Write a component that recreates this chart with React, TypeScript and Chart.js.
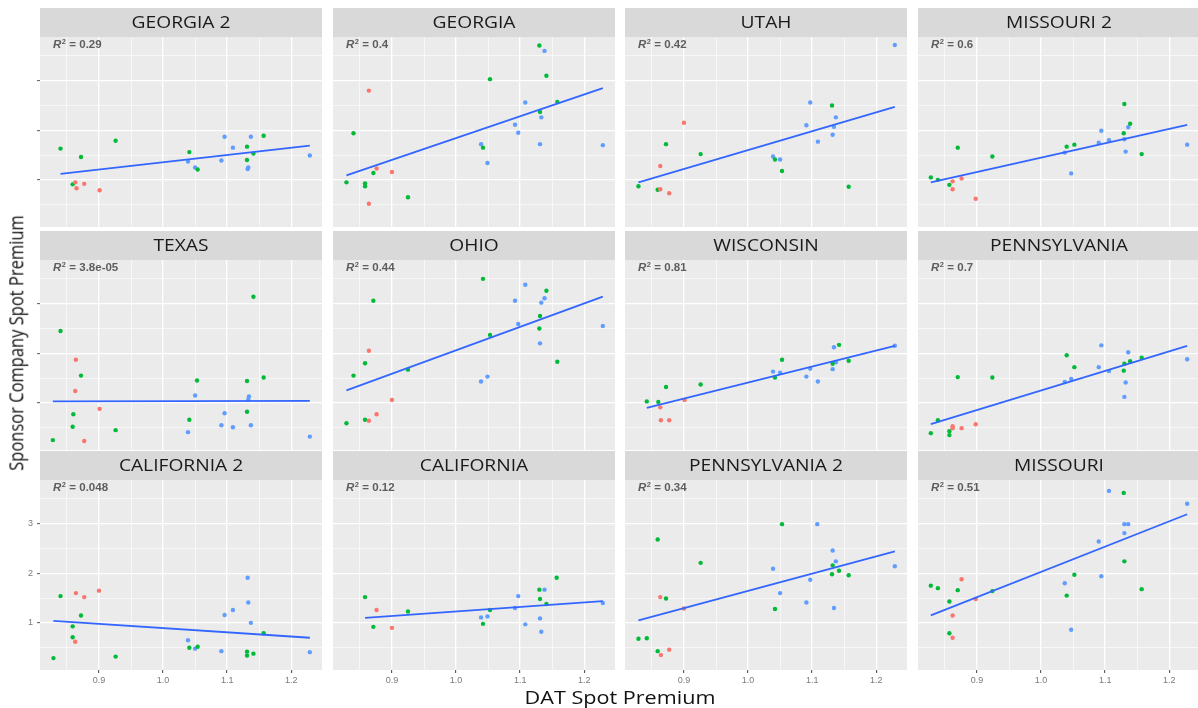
import React, { useEffect, useRef } from 'react';
import { Chart, registerables } from 'chart.js';

Chart.register(...registerables);

type Grp = 'r' | 'g' | 'b';
type Pt = [number, number, Grp];
type Fit = [[number, number], [number, number]];

// ---------- labels ----------
const PANEL_TITLES = [
  'GEORGIA 2', 'GEORGIA', 'UTAH', 'MISSOURI 2',
  'TEXAS', 'OHIO', 'WISCONSIN', 'PENNSYLVANIA',
  'CALIFORNIA 2', 'CALIFORNIA', 'PENNSYLVANIA 2', 'MISSOURI',
];
const R2_LABELS = ['0.29', '0.4', '0.42', '0.6', '3.8e-05', '0.44', '0.81', '0.7', '0.048', '0.12', '0.34', '0.51'];
const X_TITLE = 'DAT Spot Premium';
const Y_TITLE = 'Sponsor Company Spot Premium';

// ---------- axes ----------
const X_TICKS = [0.85, 0.9, 0.95, 1.0, 1.05, 1.1, 1.15, 1.2];
const X_MAJOR = [0.9, 1.0, 1.1, 1.2];
const Y_TICKS = [0.5, 1, 1.5, 2, 2.5, 3, 3.5];
const Y_MAJOR = [1, 2, 3];
const X_RANGE = [0.808, 1.248];
const Y_RANGE = [0.05, 3.88];

// ---------- data (x = DAT premium, y = sponsor premium, group) ----------
const georgia2: Pt[] = [
  [0.84, 1.63, 'g'], [0.926, 1.79, 'g'], [0.872, 1.46, 'g'], [0.859, 0.91, 'g'],
  [0.863, 0.95, 'r'], [0.877, 0.92, 'r'], [0.865, 0.83, 'r'], [0.901, 0.79, 'r'],
  [1.041, 1.56, 'g'], [1.039, 1.37, 'b'], [1.05, 1.25, 'b'], [1.054, 1.21, 'g'],
  [1.096, 1.87, 'b'], [1.109, 1.65, 'b'], [1.091, 1.39, 'b'], [1.137, 1.87, 'b'],
  [1.131, 1.67, 'g'], [1.157, 1.89, 'g'], [1.141, 1.53, 'g'], [1.131, 1.40, 'g'],
  [1.133, 1.25, 'b'], [1.132, 1.22, 'b'], [1.229, 1.49, 'b'],
];
const georgia: Pt[] = [
  [1.130, 3.71, 'g'], [1.138, 3.60, 'b'], [1.053, 3.03, 'g'], [1.141, 3.10, 'g'],
  [0.864, 2.80, 'r'], [1.108, 2.56, 'b'], [1.158, 2.57, 'g'], [1.131, 2.37, 'g'],
  [1.133, 2.26, 'b'], [1.092, 2.11, 'b'], [1.097, 1.95, 'b'], [0.84, 1.94, 'g'],
  [1.039, 1.72, 'b'], [1.042, 1.65, 'g'], [1.131, 1.72, 'b'], [1.229, 1.70, 'b'],
  [1.049, 1.34, 'b'], [0.876, 1.23, 'r'], [0.9, 1.16, 'r'], [0.871, 1.14, 'g'],
  [0.829, 0.95, 'g'], [0.858, 0.93, 'g'], [0.858, 0.87, 'g'], [0.925, 0.65, 'g'],
  [0.864, 0.52, 'r'],
];
const utah: Pt[] = [
  [1.229, 3.72, 'b'], [1.097, 2.56, 'b'], [1.131, 2.50, 'g'], [1.137, 2.26, 'b'],
  [1.091, 2.10, 'b'], [1.134, 2.07, 'b'], [1.132, 1.91, 'b'], [1.109, 1.77, 'b'],
  [0.9, 2.15, 'r'], [0.872, 1.72, 'g'], [0.926, 1.52, 'g'], [1.039, 1.47, 'b'],
  [1.042, 1.41, 'g'], [1.05, 1.41, 'b'], [1.053, 1.18, 'g'], [0.863, 1.28, 'r'],
  [0.829, 0.87, 'g'], [0.859, 0.80, 'g'], [0.863, 0.81, 'r'], [0.877, 0.73, 'r'],
  [1.157, 0.86, 'g'],
];
const missouri2: Pt[] = [
  [1.130, 2.53, 'g'], [1.139, 2.13, 'g'], [1.136, 2.06, 'b'], [1.129, 1.94, 'g'],
  [1.094, 1.99, 'b'], [1.09, 1.75, 'b'], [1.106, 1.80, 'b'], [1.13, 1.82, 'b'],
  [1.132, 1.57, 'b'], [1.157, 1.52, 'g'], [1.228, 1.71, 'b'], [1.04, 1.67, 'g'],
  [1.052, 1.71, 'g'], [1.037, 1.55, 'b'], [1.047, 1.13, 'b'], [0.87, 1.65, 'g'],
  [0.924, 1.47, 'g'], [0.828, 1.05, 'g'], [0.839, 1.0, 'g'], [0.857, 0.9, 'g'],
  [0.862, 0.97, 'r'], [0.876, 1.03, 'r'], [0.862, 0.81, 'r'], [0.898, 0.62, 'r'],
];
const texas: Pt[] = [
  [1.141, 3.14, 'g'], [0.84, 2.45, 'g'], [0.864, 1.87, 'r'], [0.872, 1.55, 'g'],
  [0.863, 1.24, 'r'], [0.901, 0.88, 'r'], [0.86, 0.77, 'g'], [0.859, 0.52, 'g'],
  [0.828, 0.25, 'g'], [0.877, 0.23, 'r'], [0.926, 0.45, 'g'], [1.053, 1.45, 'g'],
  [1.05, 1.15, 'b'], [1.041, 0.66, 'g'], [1.039, 0.41, 'b'], [1.131, 1.44, 'g'],
  [1.157, 1.51, 'g'], [1.134, 1.13, 'b'], [1.133, 1.07, 'b'], [1.131, 0.82, 'g'],
  [1.096, 0.79, 'b'], [1.091, 0.55, 'b'], [1.109, 0.51, 'b'], [1.137, 0.55, 'b'],
  [1.229, 0.32, 'b'],
];
const ohio: Pt[] = [
  [1.042, 3.5, 'g'], [1.108, 3.38, 'b'], [1.141, 3.26, 'g'], [1.138, 3.11, 'b'],
  [1.092, 3.06, 'b'], [1.133, 3.02, 'b'], [0.871, 3.06, 'g'], [1.131, 2.75, 'g'],
  [1.097, 2.59, 'b'], [1.130, 2.5, 'g'], [1.053, 2.37, 'g'], [1.229, 2.55, 'b'],
  [1.131, 2.2, 'b'], [1.158, 1.83, 'g'], [0.864, 2.05, 'r'], [0.858, 1.8, 'g'],
  [0.84, 1.55, 'g'], [0.925, 1.67, 'g'], [1.049, 1.53, 'b'], [1.039, 1.43, 'b'],
  [0.9, 1.06, 'r'], [0.876, 0.77, 'r'], [0.858, 0.66, 'g'], [0.864, 0.64, 'r'],
  [0.829, 0.59, 'g'],
];
const wisconsin: Pt[] = [
  [1.142, 2.17, 'g'], [1.134, 2.12, 'b'], [1.229, 2.15, 'b'], [1.053, 1.87, 'g'],
  [1.132, 1.79, 'g'], [1.137, 1.82, 'b'], [1.157, 1.85, 'g'], [1.132, 1.68, 'b'],
  [1.097, 1.69, 'b'], [1.039, 1.63, 'b'], [1.05, 1.61, 'b'], [1.042, 1.51, 'g'],
  [1.091, 1.53, 'b'], [1.109, 1.43, 'b'], [0.872, 1.32, 'g'], [0.926, 1.37, 'g'],
  [0.842, 1.03, 'g'], [0.86, 1.02, 'g'], [0.863, 0.91, 'r'], [0.901, 1.06, 'r'],
  [0.864, 0.65, 'r'], [0.877, 0.65, 'r'],
];
const pennsylvania: Pt[] = [
  [1.094, 2.16, 'b'], [1.136, 2.02, 'b'], [1.04, 1.96, 'g'], [1.157, 1.91, 'g'],
  [1.139, 1.84, 'g'], [1.130, 1.79, 'g'], [1.228, 1.88, 'b'], [1.052, 1.72, 'g'],
  [1.09, 1.72, 'b'], [1.106, 1.64, 'b'], [1.129, 1.65, 'g'], [1.132, 1.41, 'b'],
  [1.13, 1.12, 'b'], [1.047, 1.48, 'b'], [1.037, 1.42, 'b'], [0.87, 1.52, 'g'],
  [0.924, 1.51, 'g'], [0.839, 0.65, 'g'], [0.828, 0.39, 'g'], [0.857, 0.43, 'g'],
  [0.857, 0.35, 'g'], [0.862, 0.53, 'r'], [0.862, 0.49, 'r'], [0.876, 0.49, 'r'],
  [0.898, 0.57, 'r'],
];
const california2: Pt[] = [
  [1.132, 1.91, 'b'], [1.133, 1.41, 'b'], [1.109, 1.26, 'b'], [1.096, 1.16, 'b'],
  [1.137, 1.0, 'b'], [1.157, 0.79, 'g'], [1.039, 0.65, 'b'], [1.041, 0.5, 'g'],
  [1.05, 0.48, 'b'], [1.054, 0.52, 'g'], [1.091, 0.43, 'b'], [1.131, 0.42, 'g'],
  [1.131, 0.34, 'g'], [1.141, 0.38, 'g'], [1.229, 0.41, 'b'], [0.9, 1.65, 'r'],
  [0.864, 1.6, 'r'], [0.877, 1.52, 'r'], [0.84, 1.54, 'g'], [0.872, 1.15, 'g'],
  [0.859, 0.93, 'g'], [0.859, 0.71, 'g'], [0.863, 0.62, 'r'], [0.829, 0.29, 'g'],
  [0.926, 0.32, 'g'],
];
const california: Pt[] = [
  [1.157, 1.91, 'g'], [1.130, 1.67, 'g'], [1.138, 1.67, 'b'], [1.097, 1.54, 'b'],
  [1.131, 1.48, 'g'], [1.141, 1.38, 'g'], [1.229, 1.40, 'b'], [1.092, 1.30, 'b'],
  [1.053, 1.26, 'g'], [1.049, 1.13, 'b'], [1.039, 1.11, 'b'], [1.042, 0.98, 'g'],
  [1.108, 0.97, 'b'], [1.131, 1.09, 'b'], [1.133, 0.82, 'b'], [0.858, 1.52, 'g'],
  [0.876, 1.26, 'r'], [0.925, 1.23, 'g'], [0.871, 0.92, 'g'], [0.9, 0.90, 'r'],
];
const pennsylvania2: Pt[] = [
  [1.053, 2.99, 'g'], [1.108, 2.99, 'b'], [0.859, 2.68, 'g'], [1.132, 2.46, 'b'],
  [0.926, 2.21, 'g'], [1.137, 2.24, 'b'], [1.132, 2.16, 'g'], [1.039, 2.09, 'b'],
  [1.229, 2.14, 'b'], [1.142, 2.05, 'g'], [1.131, 1.98, 'g'], [1.157, 1.96, 'g'],
  [1.097, 1.87, 'b'], [1.05, 1.6, 'b'], [0.863, 1.52, 'r'], [0.872, 1.49, 'g'],
  [1.091, 1.41, 'b'], [0.9, 1.29, 'r'], [1.042, 1.28, 'g'], [1.134, 1.3, 'b'],
  [0.829, 0.68, 'g'], [0.842, 0.69, 'g'], [0.859, 0.43, 'g'], [0.877, 0.46, 'r'],
  [0.864, 0.35, 'r'],
];
const missouri: Pt[] = [
  [1.106, 3.66, 'b'], [1.129, 3.62, 'g'], [1.228, 3.40, 'b'], [1.130, 2.99, 'b'],
  [1.136, 2.99, 'b'], [1.130, 2.81, 'b'], [1.09, 2.64, 'b'], [1.130, 2.24, 'g'],
  [1.052, 1.97, 'g'], [1.094, 1.94, 'b'], [1.157, 1.68, 'g'], [1.037, 1.80, 'b'],
  [1.04, 1.55, 'g'], [1.047, 0.86, 'b'], [0.876, 1.88, 'r'], [0.828, 1.75, 'g'],
  [0.839, 1.70, 'g'], [0.87, 1.66, 'g'], [0.924, 1.64, 'g'], [0.898, 1.48, 'r'],
  [0.857, 1.43, 'g'], [0.862, 1.15, 'r'], [0.857, 0.79, 'g'], [0.862, 0.70, 'r'],
];

const PANEL_DATA: Pt[][] = [
  georgia2, georgia, utah, missouri2,
  texas, ohio, wisconsin, pennsylvania,
  california2, california, pennsylvania2, missouri,
];

// fitted regression line end points
const FIT_LINES: Fit[] = [
  [[0.84, 1.12], [1.229, 1.69]],
  [[0.829, 1.09], [1.229, 2.85]],
  [[0.829, 0.95], [1.229, 2.47]],
  [[0.828, 0.95], [1.228, 2.11]],
  [[0.828, 1.03], [1.229, 1.04]],
  [[0.829, 1.25], [1.229, 3.14]],
  [[0.842, 0.90], [1.229, 2.15]],
  [[0.828, 0.57], [1.228, 2.15]],
  [[0.829, 1.04], [1.229, 0.70]],
  [[0.858, 1.10], [1.229, 1.44]],
  [[0.829, 1.05], [1.229, 2.44]],
  [[0.828, 1.15], [1.228, 3.19]],
];

// ---------- styling / layout ----------
const GROUP_COLORS: Record<Grp, string> = { r: '#F8766D', g: '#00BA38', b: '#619CFF' };
const COL_LEFT = [40, 333, 625, 918];
const ROW_TOP = [8, 231, 451];
const STRIP_H = 29;
const PANEL_W = 286;
const PANEL_H = 190;
const MARGIN_L = 40;
const MARGIN_B = 22;

const near = (v: number, arr: number[]) => arr.some((a) => Math.abs(a - v) < 1e-6);

function Panel({ idx }: { idx: number }) {
  const ref = useRef<HTMLCanvasElement | null>(null);
  const row = Math.floor(idx / 4);
  const col = idx % 4;

  useEffect(() => {
    const canvas = ref.current;
    if (!canvas) return;
    const title = PANEL_TITLES[idx];
    const r2 = R2_LABELS[idx];
    const pts = PANEL_DATA[idx];
    const fit = FIT_LINES[idx];
    const showX = row === 2;
    const showYTicks = col === 0;
    const showYLabels = col === 0 && row === 2;

    const groupDs = (['r', 'g', 'b'] as Grp[]).map((g, i) => ({
      data: pts.filter((p) => p[2] === g).map((p) => ({ x: p[0], y: p[1] })),
      backgroundColor: GROUP_COLORS[g],
      borderWidth: 0,
      pointRadius: 2.2,
      showLine: false,
      order: i + 1,
    }));

    const panelPlugin = {
      id: 'panelDeco',
      beforeDraw(chart: any) {
        const { ctx, chartArea: a } = chart;
        ctx.save();
        ctx.fillStyle = '#EBEBEB';
        ctx.fillRect(a.left, a.top, a.right - a.left, a.bottom - a.top);
        ctx.restore();
      },
      afterDraw(chart: any) {
        const { ctx, chartArea: a } = chart;
        ctx.save();
        // strip
        ctx.fillStyle = '#D9D9D9';
        ctx.fillRect(a.left, a.top - STRIP_H, a.right - a.left, STRIP_H);
        ctx.fillStyle = '#1A1A1A';
        ctx.font = '16px "Open Sans"';
        ctx.textAlign = 'center';
        ctx.textBaseline = 'middle';
        ctx.translate((a.left + a.right) / 2, a.top - STRIP_H / 2 + 0.5);
        ctx.scale(1.2, 1);
        ctx.fillText(title, 0, 0);
        ctx.restore();

        // R² label
        ctx.save();
        ctx.fillStyle = '#5E5E5E';
        ctx.textAlign = 'left';
        ctx.textBaseline = 'middle';
        ctx.translate(a.left + 13, a.top + 8);
        ctx.scale(1.15, 1);
        ctx.font = 'italic bold 10px "Liberation Sans"';
        ctx.fillText('R', 0, 0);
        let w = ctx.measureText('R').width;
        ctx.font = 'bold 6.5px "Liberation Sans"';
        ctx.fillText('2', w + 0.3, -3);
        w += ctx.measureText('2').width + 0.6;
        ctx.font = 'bold 10px "Liberation Sans"';
        ctx.fillText(' = ' + r2, w, 0);
        ctx.restore();
      },
    };

    const chart = new Chart(canvas, {
      type: 'scatter',
      data: {
        datasets: [
          {
            data: fit.map((p) => ({ x: p[0], y: p[1] })),
            borderColor: '#3366FF',
            borderWidth: 1.8,
            pointRadius: 0,
            showLine: true,
            fill: false,
            order: 0,
          } as any,
          ...groupDs,
        ],
      },
      options: {
        responsive: false,
        animation: false,
        events: [],
        layout: { padding: { top: STRIP_H, left: 0, right: 0, bottom: 0 } },
        plugins: { legend: { display: false }, tooltip: { enabled: false } },
        scales: {
          x: {
            type: 'linear',
            min: X_RANGE[0],
            max: X_RANGE[1],
            afterBuildTicks: (s: any) => {
              s.ticks = X_TICKS.map((v) => ({ value: v }));
            },
            afterFit: (s: any) => {
              s.height = MARGIN_B;
            },
            border: { display: false },
            grid: {
              color: '#FFFFFF',
              lineWidth: (c: any) => (c.tick && near(c.tick.value, X_MAJOR) ? 1.3 : 0.6),
              drawTicks: true,
              tickLength: 3,
              tickWidth: 1,
              tickColor: (c: any) =>
                showX && c.tick && near(c.tick.value, X_MAJOR) ? '#444444' : 'rgba(0,0,0,0)',
            },
            ticks: {
              autoSkip: false,
              maxRotation: 0,
              padding: 2,
              color: '#7A7A7A',
              font: { family: '"Liberation Sans"', size: 9 },
              callback: (v: any) => (showX && near(Number(v), X_MAJOR) ? Number(v).toFixed(1) : ''),
            },
          },
          y: {
            type: 'linear',
            min: Y_RANGE[0],
            max: Y_RANGE[1],
            afterBuildTicks: (s: any) => {
              s.ticks = Y_TICKS.map((v) => ({ value: v }));
            },
            afterFit: (s: any) => {
              s.width = MARGIN_L;
            },
            border: { display: false },
            grid: {
              color: '#FFFFFF',
              lineWidth: (c: any) => (c.tick && near(c.tick.value, Y_MAJOR) ? 1.3 : 0.6),
              drawTicks: true,
              tickLength: 3,
              tickWidth: 1,
              tickColor: (c: any) =>
                showYTicks && c.tick && near(c.tick.value, Y_MAJOR) ? '#555555' : 'rgba(0,0,0,0)',
            },
            ticks: {
              autoSkip: false,
              padding: 4,
              color: '#7A7A7A',
              font: { family: '"Liberation Sans"', size: 9 },
              callback: (v: any) => (showYLabels && near(Number(v), Y_MAJOR) ? String(Number(v)) : ''),
            },
          },
        },
      } as any,
      plugins: [panelPlugin],
    });
    return () => chart.destroy();
  }, [idx, row, col]);

  return (
    <canvas
      ref={ref}
      width={MARGIN_L + PANEL_W}
      height={STRIP_H + PANEL_H + MARGIN_B}
      style={{
        position: 'absolute',
        left: COL_LEFT[col] - MARGIN_L,
        top: ROW_TOP[row],
        width: MARGIN_L + PANEL_W,
        height: STRIP_H + PANEL_H + MARGIN_B,
      }}
    />
  );
}

export default function App() {
  return (
    <div
      style={{
        position: 'absolute',
        left: 0,
        top: 0,
        width: 1198,
        height: 708,
        overflow: 'hidden',
        background: '#FFFFFF',
      }}
    >
      {PANEL_TITLES.map((_, i) => (
        <Panel key={i} idx={i} />
      ))}
      <div
        style={{
          position: 'absolute',
          left: 620,
          top: 697,
          transform: 'translate(-50%, -50%) scaleX(1.2)',
          whiteSpace: 'nowrap',
          fontFamily: '"Open Sans", sans-serif',
          fontSize: 18,
          color: '#111111',
          lineHeight: 1,
        }}
      >
        {X_TITLE}
      </div>
      <div
        style={{
          position: 'absolute',
          left: 16,
          top: 343,
          transform: 'translate(-50%, -50%) rotate(-90deg) scaleY(1.2)',
          whiteSpace: 'nowrap',
          fontFamily: '"Open Sans", sans-serif',
          fontSize: 16.5,
          color: '#111111',
          lineHeight: 1,
        }}
      >
        {Y_TITLE}
      </div>
    </div>
  );
}
